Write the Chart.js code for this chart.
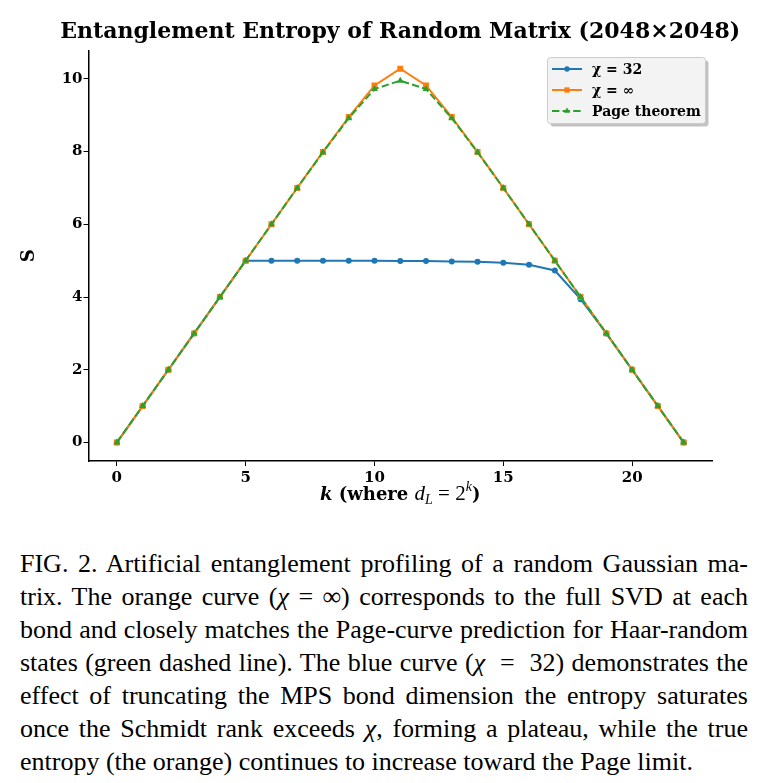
<!DOCTYPE html>
<html>
<head>
<meta charset="utf-8">
<title>Entanglement Entropy of Random Matrix</title>
<script src="https://cdn.jsdelivr.net/npm/chart.js@4.4.1/dist/chart.umd.min.js"></script>
<style>
  html, body { margin: 0; padding: 0; background: #fff; }
  #wrap { position: relative; width: 766px; height: 783px; overflow: hidden; }
  #entropyChart { position: absolute; left: 0; top: 0; }
  #caption {
    position: absolute; left: 20px; top: 547px; width: 728px;
    font-family: "Liberation Serif", "Times New Roman", serif;
    font-size: 26px; line-height: 33px; color: #000;
  }
  #caption div { text-align: justify; text-align-last: justify; }
  #caption div.last { text-align-last: left; }
  #caption i { font-style: italic; }
</style>
</head>
<body>
<div id="wrap">
  <canvas id="entropyChart" width="766" height="525"></canvas>
  <div id="caption">
    <div>FIG. 2. Artificial entanglement profiling of a random Gaussian ma-</div>
    <div>trix. The orange curve (<i>χ</i> = ∞) corresponds to the full SVD at each</div>
    <div>bond and closely matches the Page-curve prediction for Haar-random</div>
    <div>states (green dashed line). The blue curve (<i>χ</i> &nbsp;= &nbsp;32) demonstrates the</div>
    <div>effect of truncating the MPS bond dimension the entropy saturates</div>
    <div>once the Schmidt rank exceeds <i>χ</i>, forming a plateau, while the true</div>
    <div class="last">entropy (the orange) continues to increase toward the Page limit.</div>
  </div>
</div>
<script>
// datos
var kValues = [0, 1, 2, 3, 4, 5, 6, 7, 8, 9, 10, 11, 12, 13, 14, 15, 16, 17, 18, 19, 20, 21, 22];
var chi32 = [0, 1, 2, 3, 4, 5, 5.0, 5.0, 5.0, 5.0, 5.0, 4.99, 4.99, 4.98, 4.97, 4.94, 4.89, 4.73, 3.94, 3, 2, 1, 0];
var chiInf = [0, 1, 2, 3, 4, 5, 6, 7, 7.99, 8.95, 9.82, 10.28, 9.82, 8.95, 7.99, 7, 6, 5, 4, 3, 2, 1, 0];
var pageTheorem = [0, 1, 2, 3, 4, 5, 6, 7, 7.98, 8.92, 9.72, 9.95, 9.72, 8.92, 7.98, 7, 6, 5, 4, 3, 2, 1, 0];
var seriesLabels = ["χ = 32", "χ = ∞", "Page theorem"];
var xTicks = [0, 5, 10, 15, 20];
var yTicks = [0, 2, 4, 6, 8, 10];
var chartTitle = "Entanglement Entropy of Random Matrix (2048×2048)";

function toPoints(values) {
    return values.map(function (v, i) { return { x: kValues[i], y: v }; });
}

// titulo centrado sobre el area de datos (sin comprimir)
var titleText = {
    id: "titleText",
    afterDraw: function (chart) {
        var ctx = chart.ctx;
        var area = chart.chartArea;
        ctx.save();
        ctx.fillStyle = "#000";
        ctx.font = "bold 22px 'DejaVu Serif'";
        ctx.textAlign = "center";
        ctx.textBaseline = "alphabetic";
        ctx.fillText(chartTitle, (area.left + area.right) / 2, 38);
        ctx.restore();
    }
};

// leyenda con marco y sombra dentro del area
var legendBox = {
    id: "legendBox",
    afterDraw: function (chart) {
        var ctx = chart.ctx;
        var x = 547.5, y = 57.5, w = 158, h = 66;
        ctx.save();
        ctx.fillStyle = "rgba(120,120,120,0.45)";
        ctx.beginPath();
        ctx.roundRect(x + 3, y + 3, w, h, 3);
        ctx.fill();
        ctx.fillStyle = "#f3f3f3";
        ctx.strokeStyle = "#cccccc";
        ctx.lineWidth = 1;
        ctx.beginPath();
        ctx.roundRect(x, y, w, h, 3);
        ctx.fill();
        ctx.stroke();

        chart.data.datasets.forEach(function (ds, i) {
            var ry = 69 + i * 21;
            ctx.strokeStyle = ds.borderColor;
            ctx.fillStyle = ds.backgroundColor;
            ctx.lineWidth = ds.borderWidth;
            ctx.setLineDash(ds.borderDash || []);
            ctx.beginPath();
            ctx.moveTo(552, ry);
            ctx.lineTo(582, ry);
            ctx.stroke();
            ctx.setLineDash([]);
            Chart.helpers.drawPoint(ctx, {
                pointStyle: ds.pointStyle, radius: ds.pointRadius * 0.9, rotation: 0, borderWidth: 0
            }, 567, ry);
            ctx.fillStyle = "#000";
            ctx.font = "bold 14px 'DejaVu Serif'";
            ctx.textBaseline = "middle";
            ctx.textAlign = "left";
            ctx.fillText(ds.label, 592, ry + 1);
        });
        ctx.restore();
    }
};

// etiqueta del eje x con partes en cursiva / subindice
var xLabelParts = [
    { t: "k", f: "italic bold 18px 'DejaVu Serif'", dy: 0 },
    { t: " (where ", f: "bold 18px 'DejaVu Serif'", dy: 0 },
    { t: "d", f: "italic 21px 'Liberation Serif'", dy: 0 },
    { t: "L", f: "italic 14px 'Liberation Serif'", dy: 4 },
    { t: " = 2", f: "21px 'Liberation Serif'", dy: 0 },
    { t: "k", f: "italic 14px 'Liberation Serif'", dy: -9 },
    { t: ")", f: "bold 18px 'DejaVu Serif'", dy: 0 }
];

var xLabel = {
    id: "xLabel",
    afterDraw: function (chart) {
        var ctx = chart.ctx;
        var area = chart.chartArea;
        ctx.save();
        var total = 0;
        xLabelParts.forEach(function (p) {
            ctx.font = p.f;
            p.w = ctx.measureText(p.t).width;
            total += p.w;
        });
        var cx = (area.left + area.right) / 2 - total / 2;
        ctx.fillStyle = "#000";
        ctx.textBaseline = "alphabetic";
        ctx.textAlign = "left";
        xLabelParts.forEach(function (p) {
            ctx.font = p.f;
            ctx.fillText(p.t, cx, 500 + p.dy);
            cx += p.w;
        });
        ctx.restore();
    }
};

var ctx = document.getElementById("entropyChart").getContext("2d");
var chart = new Chart(ctx, {
    type: "line",
    data: {
        datasets: [
            {
                label: seriesLabels[0],
                data: toPoints(chi32),
                borderColor: "#1f77b4",
                backgroundColor: "#1f77b4",
                borderWidth: 2,
                pointStyle: "circle",
                pointRadius: 3,
                pointBorderWidth: 0,
                order: 2
            },
            {
                label: seriesLabels[1],
                data: toPoints(chiInf),
                borderColor: "#ff7f0e",
                backgroundColor: "#ff7f0e",
                borderWidth: 2,
                pointStyle: "rect",
                pointRadius: 4.2,
                pointBorderWidth: 0,
                order: 1
            },
            {
                label: seriesLabels[2],
                data: toPoints(pageTheorem),
                borderColor: "#2ca02c",
                backgroundColor: "#2ca02c",
                borderWidth: 2,
                borderDash: [7.4, 3.2],
                pointStyle: "triangle",
                pointRadius: 4,
                pointBorderWidth: 0,
                order: 0
            }
        ]
    },
    options: {
        responsive: false,
        animation: false,
        devicePixelRatio: 1,
        events: [],
        layout: { padding: { left: 0, right: 54, top: 50.5, bottom: 0 } },
        plugins: {
            legend: { display: false },
            tooltip: { enabled: false },
            title: { display: false }
        },
        scales: {
            x: {
                type: "linear",
                min: -1.1,
                max: 23.1,
                afterBuildTicks: function (s) { s.ticks = xTicks.map(function (v) { return { value: v }; }); },
                afterFit: function (s) { s.height = 64; },
                ticks: {
                    font: { family: "DejaVu Serif", weight: "bold", size: 15 },
                    color: "#000", padding: 3, maxRotation: 0, autoSkip: false
                },
                grid: { drawOnChartArea: false, drawTicks: true, tickLength: 5, color: "#000", lineWidth: 1 },
                border: { display: true, color: "#000", width: 1.5 }
            },
            y: {
                type: "linear",
                min: -0.51,
                max: 10.78,
                afterBuildTicks: function (s) { s.ticks = yTicks.map(function (v) { return { value: v }; }); },
                afterFit: function (s) { s.width = 88.5; },
                ticks: {
                    font: { family: "DejaVu Serif", weight: "bold", size: 15 },
                    color: "#000", padding: 1, autoSkip: false
                },
                grid: { drawOnChartArea: false, drawTicks: true, tickLength: 5, color: "#000", lineWidth: 1 },
                border: { display: true, color: "#000", width: 1.5 },
                title: {
                    display: true,
                    text: "S",
                    color: "#000",
                    font: { family: "DejaVu Serif", weight: "bold", size: 18 },
                    padding: { top: 19, bottom: 0 }
                }
            }
        }
    },
    plugins: [titleText, legendBox, xLabel]
});
</script>
</body>
</html>
